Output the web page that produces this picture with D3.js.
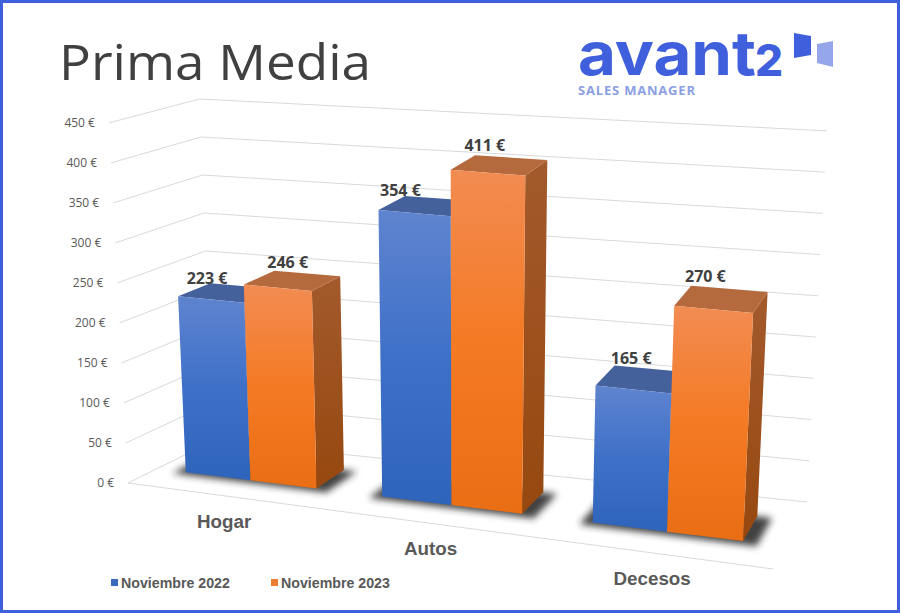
<!DOCTYPE html>
<html><head><meta charset="utf-8">
<script src="https://cdn.jsdelivr.net/npm/d3@7"></script>
<style>html,body{margin:0;padding:0;background:#fff}svg{display:block}</style>
</head><body><svg id="c" width="900" height="613"></svg>
<script>
const categories = ["Hogar","Autos","Decesos"];
const seriesNames = ["Noviembre 2022","Noviembre 2023"];
const values2022 = [223,354,165];
const values2023 = [246,411,270];
const tickValues = [0,50,100,150,200,250,300,350,400,450];

const svg = d3.select("#c");
const W=900,H=613;
svg.append("rect").attr("x",1.5).attr("y",1.5).attr("width",W-3).attr("height",H-3).attr("fill","#fff").attr("stroke","#3f5fdc").attr("stroke-width",3);

// 3D scene: floor corners, vertical vanishing point, height factor at each corner
const FL=[128,483],FR=[773,569],BR=[807,502],BL=[213,441],VP=[465,6857];
const sFL=.0565,sFR=.0616,sBR=.0584,sBL=.0533;
const warpK=.9;
const warp=a=>warpK*a/(1+(warpK-1)*a);
const lerp=(a,b,t)=>a+(b-a)*t;
function bil(u,v,fl,fr,br,bl){return lerp(lerp(fl,fr,u),lerp(bl,br,u),v);}
function floor(a,v){const u=warp(a);return [bil(u,v,FL[0],FR[0],BR[0],BL[0]),bil(u,v,FL[1],FR[1],BR[1],BL[1])];}
const yScale=d3.scaleLinear().domain([0,450]).range([0,1]);
function P(a,v,val){
  const F=floor(a,v),s=bil(warp(a),v,sFL,sFR,sBR,sBL)*yScale(val);
  return [F[0]+(F[0]-VP[0])*s,F[1]+(F[1]-VP[1])*s];
}
const poly=pts=>"M"+pts.map(p=>p[0].toFixed(1)+","+p[1].toFixed(1)).join("L")+"Z";

const x0=d3.scaleBand().domain(categories).range([0.001,0.99]).paddingInner(0.327).paddingOuter(0.15);
const x1=d3.scaleBand().domain(seriesNames).range([0,x0.bandwidth()]);
const depthFront=0.34,depthBack=0.72;
// label nudges (layout only), per category then series
const labelDx=[[-4,10],[-14,-3],[-2,-8]];
const labelDy=[[-15,-20],[-17,-22],[-26,-27]];

const defs=svg.append("defs");
function grad(id,stops){
  const g=defs.append("linearGradient").attr("id",id).attr("x1",0).attr("y1",0).attr("x2",0).attr("y2",1);
  stops.forEach((s,i)=>g.append("stop").attr("offset",i/(stops.length-1)).attr("stop-color",s));
}
grad("fb",["#5f84cf","#3e70c8","#2f64bb"]);
grad("fo",["#f28c52","#f47a24","#e96e14"]);
grad("sb",["#44619b","#2c4f90"]);
grad("so",["#a35a2c","#96480f"]);
defs.append("filter").attr("id","blur").attr("x","-20%").attr("y","-50%").attr("width","140%").attr("height","200%")
  .append("feGaussianBlur").attr("stdDeviation",3.5);

// gridlines
svg.append("g").selectAll("path").data(tickValues).join("path")
  .attr("d",k=>"M"+[P(0,0,k),P(0,1,k),P(1,1,k)].map(p=>p.join(",")).join("L"))
  .attr("fill","none").attr("stroke","#d9d9d9").attr("stroke-width",1);
svg.append("path").attr("d","M"+[P(0,0,0),P(1,0,0)].map(p=>p.join(",")).join("L"))
  .attr("fill","none").attr("stroke","#d9d9d9").attr("stroke-width",1);

// tick labels
svg.append("g").selectAll("text").data(tickValues).join("text")
  .attr("x",k=>P(0,0,k)[0]-14).attr("y",k=>P(0,0,k)[1]+4)
  .attr("text-anchor","end").attr("font-family","Open Sans").attr("font-size",12).attr("fill","#595959")
  .text(k=>k+" €");

// shadows
const barsG=svg.append("g");
categories.forEach(cat=>{
  const a=x0(cat)-0.016,b=x0(cat)+x0.bandwidth()+0.022;
  barsG.append("path").attr("d",poly([floor(a,depthFront-0.05),floor(b,depthFront-0.05),floor(b,depthBack),floor(a,depthBack)]))
    .attr("fill","#222").attr("opacity",0.85).attr("filter","url(#blur)");
});
// bars
const seriesVals=[values2022,values2023];
const fills=[["fb","#44619b","sb"],["fo","#b56a3d","so"]];
categories.forEach((cat,i)=>{
  seriesNames.forEach((s,j)=>{
    const u0=x0(cat)+x1(s),u1=u0+x1.bandwidth(),val=seriesVals[j][i],v0=depthFront,v1=depthBack;
    const g=barsG.append("g");
    g.append("path").attr("d",poly([P(u1,v0,0),P(u1,v1,0),P(u1,v1,val),P(u1,v0,val)])).attr("fill","url(#"+fills[j][2]+")");
    g.append("path").attr("d",poly([P(u0,v0,val),P(u1,v0,val),P(u1,v1,val),P(u0,v1,val)])).attr("fill",fills[j][1]);
    g.append("path").attr("d",poly([P(u0,v0,0),P(u1,v0,0),P(u1,v0,val),P(u0,v0,val)])).attr("fill","url(#"+fills[j][0]+")");
  });
});
// data labels
categories.forEach((cat,i)=>{
  seriesNames.forEach((s,j)=>{
    const u=x0(cat)+x1(s)+x1.bandwidth()/2,val=seriesVals[j][i];
    const p=P(u,depthFront,val);
    svg.append("text").attr("x",p[0]+labelDx[i][j]).attr("y",p[1]+labelDy[i][j]).attr("text-anchor","middle")
      .attr("font-family","Open Sans").attr("font-weight",700).attr("font-size",16).attr("fill","#404040")
      .text(val+" €");
  });
});
// category labels
categories.forEach(cat=>{
  const p=floor(x0(cat)+x0.bandwidth()/2,0);
  svg.append("text").attr("x",p[0]).attr("y",p[1]+32).attr("text-anchor","middle")
    .attr("font-family","Liberation Sans").attr("font-weight",700).attr("font-size",18.8).attr("fill","#595959").text(cat);
});
// legend
const lx=[111,271];
seriesNames.forEach((s,j)=>{
  svg.append("rect").attr("x",lx[j]).attr("y",579).attr("width",7).attr("height",7).attr("fill",j?"#ed7d31":"#3b69bd");
  svg.append("text").attr("x",lx[j]+10).attr("y",588).attr("font-family","Liberation Sans").attr("font-weight",700)
    .attr("font-size",14.2).attr("fill","#595959").text(s);
});
// title
svg.append("text").attr("x",59).attr("y",80).attr("font-family","Open Sans").attr("font-weight",500).attr("font-size",50).attr("fill","#404040").attr("textLength",312).attr("lengthAdjust","spacingAndGlyphs").text("Prima Media");
// logo
svg.append("text").attr("x",578).attr("y",75).attr("font-family","Inter").attr("font-weight",700).attr("font-size",60).attr("fill","#3f5fdc").attr("textLength",178).attr("lengthAdjust","spacingAndGlyphs").text("avant");
svg.append("text").attr("x",755).attr("y",76).attr("font-family","Inter").attr("font-weight",800).attr("font-size",44).attr("fill","#3f5fdc").text("2");
svg.append("text").attr("x",578).attr("y",95).attr("font-family","Open Sans").attr("font-weight",700).attr("font-size",13).attr("fill","#8ba0e3").attr("textLength",117).text("SALES MANAGER");
svg.append("path").attr("d",poly([[794,33],[811,36],[811,55],[794,58]])).attr("fill","#3f5fdc");
svg.append("path").attr("d",poly([[817,44],[833,41],[833,67],[817,63]])).attr("fill","#95a6eb");
</script></body></html>
